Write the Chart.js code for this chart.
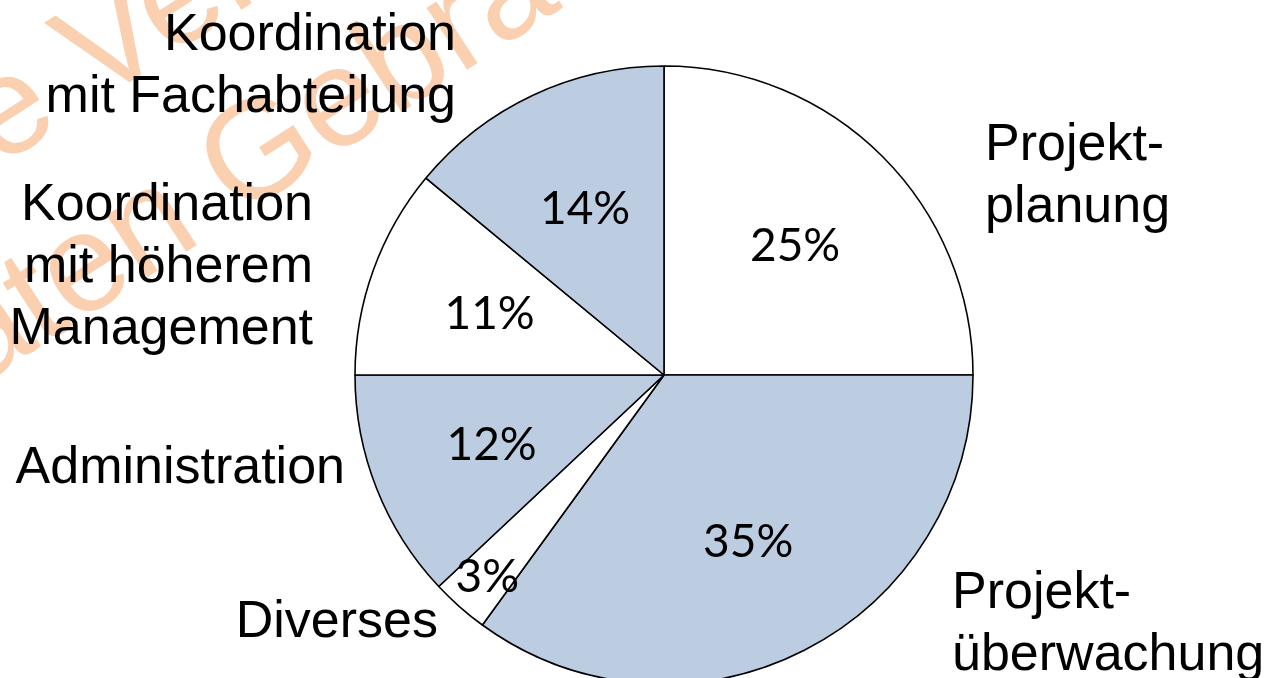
<!DOCTYPE html>
<html lang="de">
<head>
    <meta charset="UTF-8">
    <title>Zeitaufteilung Projektleitung</title>
    <script src="https://cdn.jsdelivr.net/npm/chart.js"></script>
    <style>
      html, body { margin: 0; padding: 0; background: #fff; }
      .container { width: 1280px; height: 678px; position: relative; }
    </style>
</head>
<body>

  <div class="container">
    <canvas id="chart0"></canvas>
  </div>

  <script>

    /* Data (clockwise from 12 o'clock). */
    const categories = [
      ["Projekt-", "planung"],
      ["Projekt-", "überwachung"],
      ["Diverses"],
      ["Administration"],
      ["Koordination", "mit höherem", "Management"],
      ["Koordination", "mit Fachabteilung"]
    ]
    const shares = [25, 35, 3, 12, 11, 14]
    const sliceColors = ["#ffffff", "#bdcde1", "#ffffff", "#bdcde1", "#ffffff", "#bdcde1"]

    /* Where the category names sit (text anchors, not marks). */
    const nameAnchors = [
      { x: 985, y: 160, align: "left" },
      { x: 952, y: 608, align: "left" },
      { x: 438, y: 637, align: "right" },
      { x: 345, y: 483, align: "right" },
      { x: 313, y: 220, align: "right" },
      { x: 456, y: 50, align: "right" }
    ]

    /* Watermark behind the pie. */
    const watermarkPlugin = {
      id: "watermark",
      beforeDraw(chart) {
        const ctx = chart.ctx
        ctx.save()
        ctx.fillStyle = "#fad0b0"
        ctx.font = "140px 'Liberation Sans', Arial, sans-serif"
        ctx.textBaseline = "alphabetic"
        const angle = -33 * Math.PI / 180
        // line 1
        ctx.save()
        ctx.translate(96, 104)
        ctx.rotate(angle)
        ctx.textAlign = "right"
        ctx.fillText("Leseprobe ", 0, 0)
        ctx.textAlign = "left"
        ctx.fillText("Version", 0, 0)
        ctx.restore()
        // line 2
        ctx.save()
        ctx.translate(237, 219)
        ctx.rotate(angle)
        ctx.textAlign = "right"
        ctx.fillText("nur zum privaten ", 0, 0)
        ctx.textAlign = "left"
        ctx.fillText("Gebrauch", 0, 0)
        ctx.restore()
        ctx.restore()
      }
    }

    /* Percent labels inside slices and names outside. */
    const labelPlugin = {
      id: "sliceLabels",
      afterDraw(chart) {
        const ctx = chart.ctx
        const meta = chart.getDatasetMeta(0)
        ctx.save()
        ctx.fillStyle = "#000"

        // percentages
        ctx.font = "46px Lato, 'Open Sans', sans-serif"
        ctx.textAlign = "center"
        ctx.textBaseline = "middle"
        meta.data.forEach((arc, i) => {
          const p = arc.getProps(["x", "y", "startAngle", "endAngle", "outerRadius"], true)
          const mid = (p.startAngle + p.endAngle) / 2
          const frac = shares[i] < 5 ? 0.865 : 0.6
          const lx = p.x + Math.cos(mid) * p.outerRadius * frac
          const ly = p.y + Math.sin(mid) * p.outerRadius * frac + 2
          ctx.fillText(shares[i] + "%", lx, ly)
        })

        // names
        ctx.font = "52px 'Liberation Sans', Arial, sans-serif"
        ctx.textBaseline = "alphabetic"
        categories.forEach((lines, i) => {
          const a = nameAnchors[i]
          ctx.textAlign = a.align
          lines.forEach((line, j) => {
            ctx.fillText(line, a.x, a.y + j * 62)
          })
        })
        ctx.restore()
      }
    }

    const ctx0 = document.getElementById("chart0").getContext("2d")
    const myChart0 = new Chart(ctx0, {
      type: "pie",
      data: {
        labels: categories.map(c => c.join(" ")),
        datasets: [{
          data: shares,
          backgroundColor: sliceColors,
          borderColor: "#000",
          borderWidth: 1.6,
          radius: 309
        }]
      },
      options: {
        responsive: true,
        maintainAspectRatio: false,
        animation: false,
        layout: {
          padding: { left: 48, top: 72, right: 0, bottom: 0 }
        },
        plugins: {
          legend: { display: false },
          tooltip: { enabled: false }
        }
      },
      plugins: [watermarkPlugin, labelPlugin]
    })

  </script>

</body>
</html>
